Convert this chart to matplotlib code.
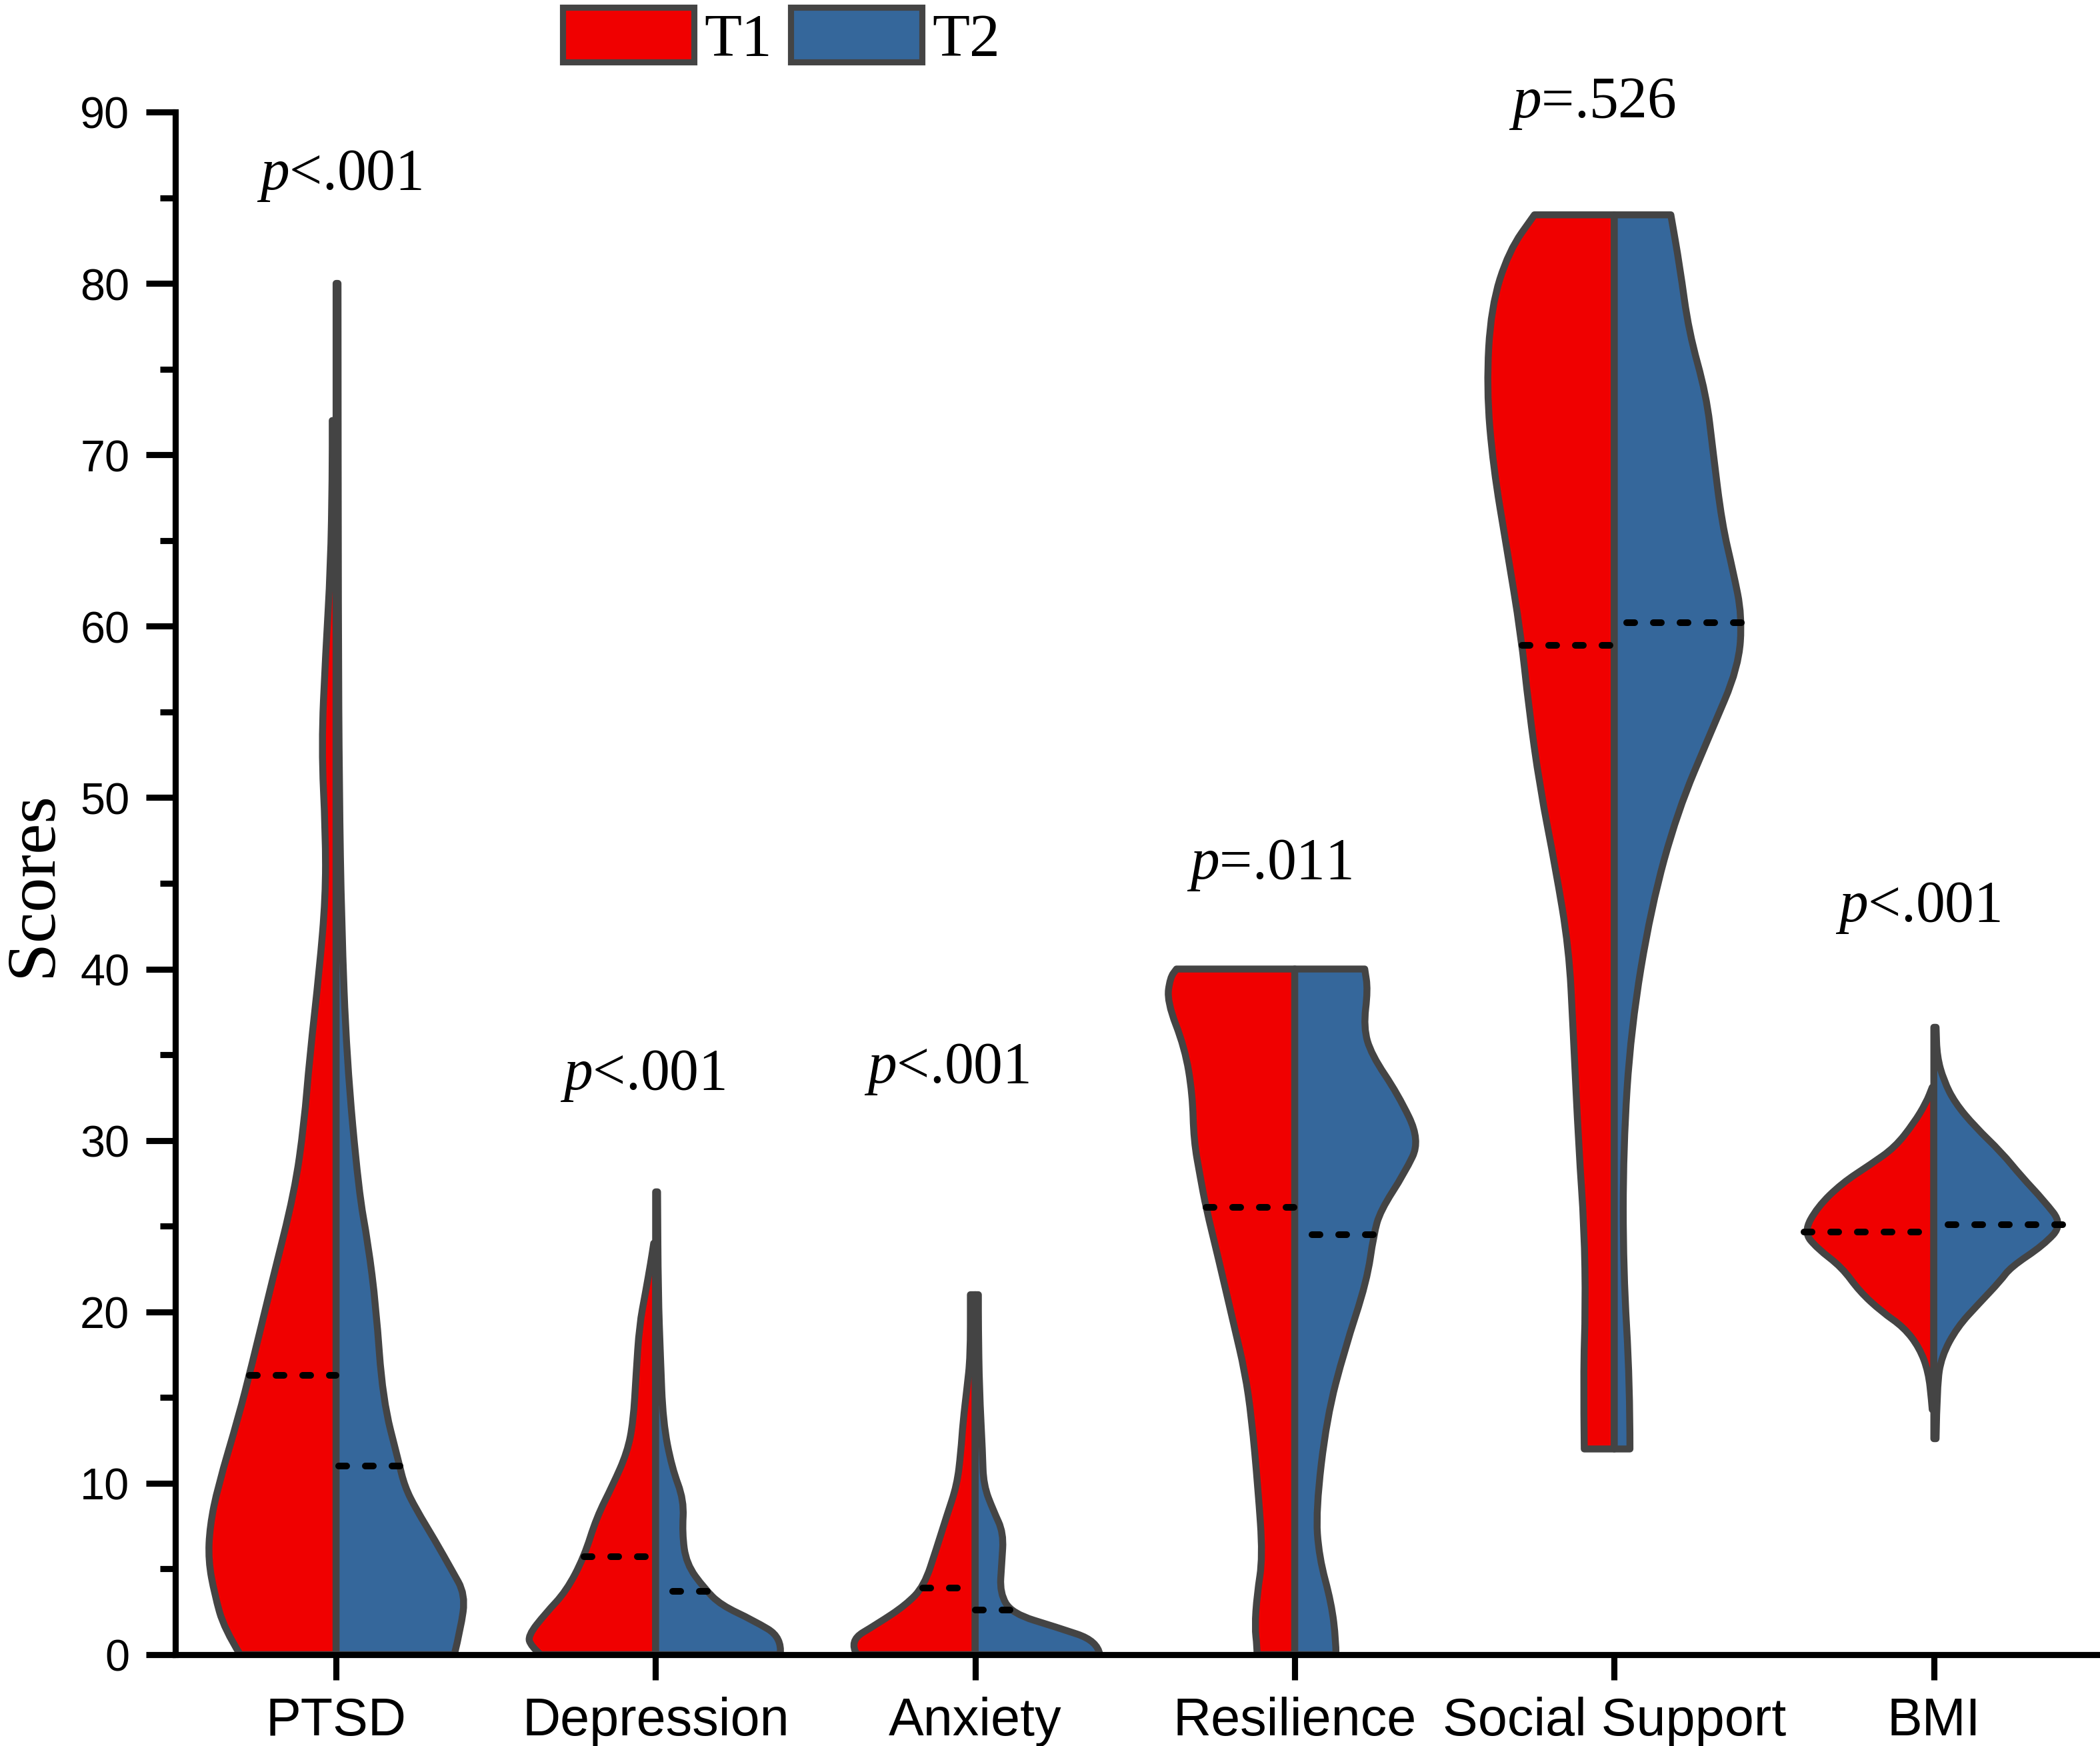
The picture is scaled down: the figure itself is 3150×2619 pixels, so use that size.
import numpy as np
import matplotlib.pyplot as plt
from matplotlib.patches import PathPatch, Patch
from matplotlib.path import Path

plt.rcParams['font.family'] = ['Liberation Sans', 'DejaVu Sans']
plt.rcParams['mathtext.fontset'] = 'custom'
plt.rcParams['mathtext.rm'] = 'Liberation Serif'
plt.rcParams['mathtext.it'] = 'Liberation Serif:italic'

categories = ['PTSD', 'Depression', 'Anxiety', 'Resilience', 'Social Support', 'BMI']
p_labels = ['$p$<.001', '$p$<.001', '$p$<.001', '$p$=.011', '$p$=.526', '$p$<.001']
p_x = [0.01, 0.96, 1.91, 2.92, 3.93, 4.95]
p_y = [86.3, 33.8, 34.2, 46.1, 90.5, 43.6]

# half-violin outlines: (score, half width in category units)
ptsd_t1 = [(0, 0.30), (1.5, 0.35), (3.5, 0.38), (5.5, 0.40), (7.5, 0.395), (9.8, 0.37),
           (13.9, 0.305), (16.8, 0.265), (21.8, 0.20), (27, 0.13), (31, 0.10), (34.8, 0.083),
           (40, 0.052), (44.2, 0.033), (47.9, 0.033), (53, 0.046), (58.3, 0.033),
           (63.5, 0.017), (68.8, 0.012), (72, 0.012)]
ptsd_t2 = [(0, 0.37), (1.5, 0.39), (3.5, 0.405), (5, 0.36), (6.65, 0.31), (8.5, 0.25),
           (9.8, 0.215), (11.3, 0.195), (14.9, 0.146), (20.3, 0.125), (24, 0.10), (27, 0.071),
           (34.8, 0.033), (42.7, 0.017), (50.5, 0.01), (60, 0.007), (80, 0.006)]
dep_t1 = [(0, 0.36), (0.5, 0.39), (1.1, 0.40), (2.4, 0.345), (3.7, 0.28), (5.7, 0.224),
          (8.0, 0.185), (9.9, 0.134), (11.8, 0.089), (13.6, 0.07), (16.4, 0.061),
          (19.2, 0.051), (21.1, 0.032), (22.9, 0.015), (24, 0.006)]
dep_t2 = [(0, 0.39), (1.0, 0.396), (2.0, 0.306), (2.9, 0.204), (3.85, 0.153), (5.3, 0.096),
          (7.1, 0.083), (9.0, 0.089), (10.9, 0.051), (13.6, 0.023), (17.4, 0.015),
          (21.1, 0.008), (27, 0.006)]
anx_t1 = [(0, 0.37), (0.8, 0.396), (1.8, 0.306), (2.9, 0.217), (4.0, 0.16), (6.2, 0.121),
          (8.1, 0.089), (9.9, 0.057), (11.8, 0.045), (13.6, 0.038), (15.5, 0.026),
          (17.4, 0.015), (21, 0.015)]
anx_t2 = [(0, 0.39), (0.8, 0.383), (1.6, 0.255), (2.4, 0.115), (3.6, 0.077), (5.3, 0.083),
          (7.1, 0.089), (8.4, 0.057), (9.9, 0.026), (11.8, 0.023), (15.5, 0.013),
          (19.2, 0.01), (21, 0.01)]
res_t1 = [(0, 0.118), (0.5, 0.118), (1.6, 0.125), (3.5, 0.118), (5.7, 0.10), (9.7, 0.115),
          (13.8, 0.135), (16.5, 0.156), (19.2, 0.19), (23.2, 0.24), (26.1, 0.278),
          (27.8, 0.295), (30.0, 0.316), (32.7, 0.32), (35.4, 0.344), (38.1, 0.40),
          (39.5, 0.39), (40, 0.37)]
res_t2 = [(0, 0.129), (0.8, 0.129), (3.0, 0.115), (5.7, 0.076), (8.4, 0.066), (13.8, 0.10),
          (17.8, 0.156), (21.8, 0.226), (24.5, 0.247), (25.9, 0.268), (28.1, 0.344),
          (30.0, 0.393), (32.7, 0.323), (35.0, 0.24), (36.6, 0.215), (38.8, 0.229),
          (40, 0.219)]
soc_t1 = [(12, 0.094), (16.4, 0.097), (20.2, 0.09), (24.9, 0.094), (29.5, 0.111),
          (36.5, 0.129), (41.2, 0.142), (45.9, 0.184), (50.6, 0.233), (55.3, 0.268),
          (59.5, 0.292), (64.6, 0.337), (69.3, 0.379), (73.9, 0.40), (78.6, 0.386),
          (81.9, 0.33), (84, 0.25)]
soc_t2 = [(12, 0.049), (15.8, 0.049), (22.5, 0.028), (29.5, 0.028), (36.5, 0.052),
          (43.6, 0.115), (49.2, 0.198), (53.8, 0.302), (57.6, 0.389), (60.6, 0.40),
          (63.2, 0.372), (66.0, 0.337), (70.2, 0.309), (73.5, 0.288), (77.2, 0.233),
          (81.0, 0.205), (84, 0.177)]
bmi_t1 = [(14.3, 0.005), (14.8, 0.007), (16.5, 0.017), (17.9, 0.045), (19.1, 0.094),
          (20.0, 0.163), (21.2, 0.233), (22.6, 0.288), (23.7, 0.365), (24.65, 0.407),
          (26.1, 0.365), (27.5, 0.288), (28.6, 0.198), (29.6, 0.122), (31.0, 0.063),
          (32.2, 0.024), (33.1, 0.005)]
bmi_t2 = [(12.6, 0.007), (15.7, 0.01), (17.4, 0.024), (19.1, 0.073), (20.5, 0.142),
          (21.8, 0.208), (22.6, 0.24), (23.9, 0.344), (25.1, 0.403), (26.5, 0.344),
          (27.9, 0.274), (29.3, 0.212), (30.8, 0.129), (32.2, 0.066), (33.5, 0.031),
          (34.9, 0.01), (36.6, 0.007)]

t1_shapes = [ptsd_t1, dep_t1, anx_t1, res_t1, soc_t1, bmi_t1]
t2_shapes = [ptsd_t2, dep_t2, anx_t2, res_t2, soc_t2, bmi_t2]
t1_median = [16.3, 5.7, 3.9, 26.1, 58.9, 24.65]
t2_median = [11.0, 3.7, 2.6, 24.5, 60.2, 25.1]

red = '#f00000'
blue = '#35679b'
edge = '#444444'

fig = plt.figure(figsize=(10.5, 2620 / 300))
ax = fig.add_axes([0.0835, 0.0523, 0.9165, 0.8832])


def half_violin(c, shape, side, color, med):
    ys = np.array([p[0] for p in shape])
    ws = np.array([p[1] for p in shape])
    pts = np.column_stack([c + side * ws, ys])
    # smooth outline: read points used as quadratic bezier control points
    verts = [(c, ys[0]), tuple(pts[0])]
    codes = [Path.MOVETO, Path.LINETO]
    for k in range(1, len(pts) - 1):
        mid = (pts[k] + pts[k + 1]) / 2
        verts += [tuple(pts[k]), tuple(mid)]
        codes += [Path.CURVE3, Path.CURVE3]
    verts += [tuple(pts[-1]), (c, ys[-1]), (c, ys[0])]
    codes += [Path.LINETO, Path.LINETO, Path.CLOSEPOLY]
    ax.add_patch(PathPatch(Path(verts, codes), facecolor=color, edgecolor=edge,
                           lw=2.5, joinstyle='round', zorder=2))
    wm = np.interp(med, ys, ws)
    ax.plot([c + side * wm, c], [med, med], color='black', lw=2.4,
            linestyle=(0, (1.2, 2.8)), dash_capstyle='round', zorder=3)


for i in range(len(categories)):
    half_violin(i, t1_shapes[i], -1, red, t1_median[i])
    half_violin(i, t2_shapes[i], 1, blue, t2_median[i])
    ax.text(p_x[i], p_y[i], p_labels[i], ha='center', va='center', fontsize=21,
            family='Liberation Serif', clip_on=False)

ax.set_xlim(-0.503, 5.52)
ax.set_ylim(0, 90)
ax.set_xticks(range(len(categories)))
ax.set_xticklabels(categories, fontsize=19)
ax.set_yticks(np.arange(0, 91, 10))
ax.set_yticks(np.arange(5, 90, 10), minor=True)
ax.tick_params(axis='y', which='major', length=10.5, width=2.2, labelsize=16, pad=6)
ax.tick_params(axis='y', which='minor', length=5.5, width=2.2)
ax.tick_params(axis='x', length=9, width=2.2, pad=6)
for s in ['top', 'right']:
    ax.spines[s].set_visible(False)
for s in ['left', 'bottom']:
    ax.spines[s].set_linewidth(2.2)
ax.set_ylabel('Scores', fontsize=25, family='Liberation Serif')
ax.yaxis.set_label_coords(-0.057, 0.5)

handles = [Patch(facecolor=red, edgecolor=edge, lw=2.2, label='T1'),
           Patch(facecolor=blue, edgecolor=edge, lw=2.2, label='T2')]
fig.legend(handles=handles, loc='upper center', bbox_to_anchor=(0.372, 0.999), ncol=2,
           frameon=False, prop={'family': 'Liberation Serif', 'size': 22},
           handlelength=2.15, handleheight=1.0, handletextpad=0.17, columnspacing=0.3,
           borderaxespad=0, borderpad=0.1)

fig.savefig('out.png', dpi=300)
